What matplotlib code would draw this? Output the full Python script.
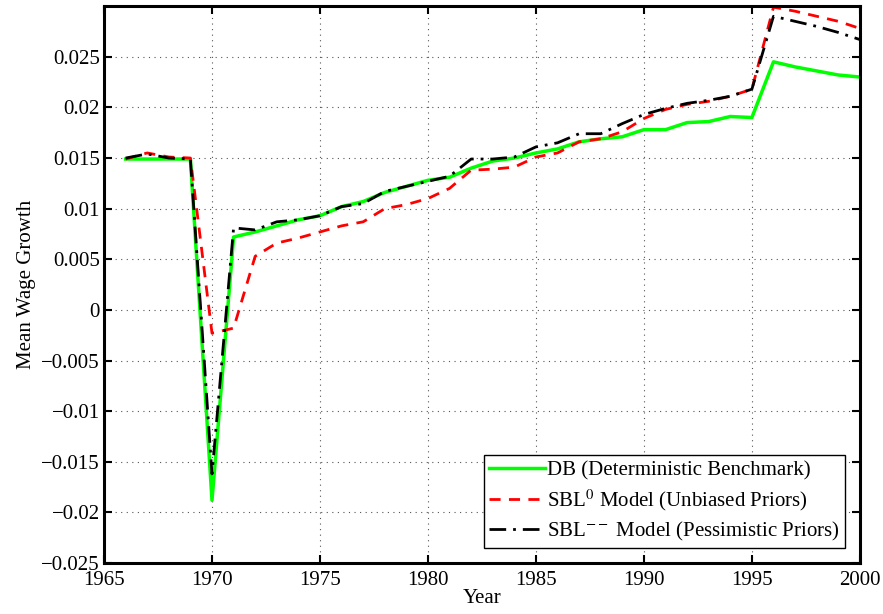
import matplotlib
matplotlib.use("Agg")
import matplotlib.pyplot as plt
from matplotlib.ticker import FuncFormatter

plt.rcParams["font.family"] = ["Liberation Serif", "DejaVu Serif"]
plt.rcParams["mathtext.fontset"] = "stix"

years = list(range(1966, 2001))

# DB (Deterministic Benchmark)
db = [0.0149, 0.0149, 0.0149, 0.0149, -0.0188, 0.0072, 0.0077, 0.0083, 0.0089, 0.0093,
      0.0102, 0.0107, 0.0116, 0.0122, 0.0128, 0.0131, 0.0140, 0.0147, 0.0150, 0.0155,
      0.0159, 0.0166, 0.0169, 0.0171, 0.0178, 0.0178, 0.0185, 0.0186, 0.0191, 0.0190,
      0.0245, 0.0240, 0.0236, 0.0232, 0.0230]

# SBL^0 (Unbiased Priors)
sbl0 = [0.0149, 0.0155, 0.0151, 0.0150, -0.0023, -0.0018, 0.0053, 0.0066, 0.0071, 0.0077,
        0.0083, 0.0087, 0.0100, 0.0104, 0.0110, 0.0120, 0.0138, 0.0139, 0.0141, 0.0151,
        0.0155, 0.0166, 0.0169, 0.0176, 0.0189, 0.0198, 0.0203, 0.0206, 0.0211, 0.0218,
        0.0299, 0.0295, 0.0290, 0.0285, 0.0278]

# SBL^-- (Pessimistic Priors)
sblm = [0.0150, 0.0154, 0.0150, 0.0149, -0.0162, 0.0081, 0.0079, 0.0087, 0.0089, 0.0093,
        0.0102, 0.0105, 0.0117, 0.0122, 0.0127, 0.0132, 0.0149, 0.0149, 0.0151, 0.0161,
        0.0165, 0.0174, 0.0174, 0.0184, 0.0193, 0.0199, 0.0204, 0.0207, 0.0211, 0.0218,
        0.0290, 0.0285, 0.0280, 0.0274, 0.0267]

labels = ["DB (Deterministic Benchmark)",
          r"SBL$^{0}$ Model (Unbiased Priors)",
          r"SBL$^{--}$ Model (Pessimistic Priors)"]


def fmt(v, pos):
    s = "%g" % round(v, 4)
    return s.replace("-", "\u2212")


fig = plt.figure(figsize=(8.83, 6.14), dpi=100)
ax = fig.add_axes([0.1178, 0.083, 0.856, 0.907])

ax.plot(years, db, color="#00ff00", lw=2.5, ls="-", label=labels[0])
ax.plot(years, sbl0, color="#ff0000", lw=2, ls=(0, (4, 3)), label=labels[1])
ax.plot(years, sblm, color="black", lw=2, ls=(0, (6, 2.5, 1, 2.5)), label=labels[2])

ax.set_xlim(1965, 2000)
ax.set_ylim(-0.025, 0.03)
ax.set_xticks(range(1965, 2001, 5))
ax.set_yticks([-0.025 + 0.005 * i for i in range(11)])
ax.yaxis.set_major_formatter(FuncFormatter(fmt))

ax.tick_params(direction="in", top=True, right=True, length=6, width=1.5, labelsize=15)
ax.tick_params(axis="x", pad=6)
ax.tick_params(axis="y", pad=3)
for s in ax.spines.values():
    s.set_linewidth(2.2)
ax.grid(True, ls=(0, (1, 4)), color="#555555", lw=0.8)

ax.set_xlabel("Year", fontsize=15, labelpad=-1)
ax.set_ylabel("Mean Wage Growth", fontsize=15, labelpad=4)

leg = ax.legend(loc="lower right", fontsize=15, fancybox=False, framealpha=1,
                edgecolor="black", borderpad=0.25, labelspacing=0.35,
                handlelength=2.7, handletextpad=0.1, borderaxespad=0.7)
leg.get_frame().set_linewidth(1.0)

fig.savefig("out.png", dpi=100)
